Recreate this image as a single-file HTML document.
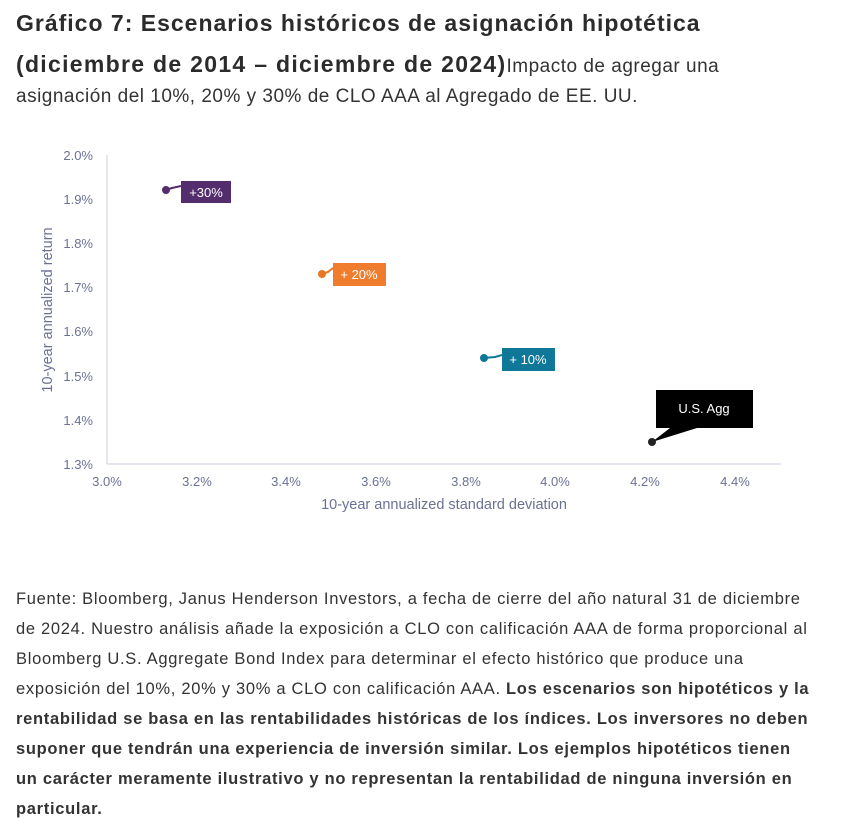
<!DOCTYPE html>
<html><head><meta charset="utf-8"><style>
body{margin:0;width:842px;height:831px;background:#fff;font-family:"Liberation Sans",sans-serif;color:#333;overflow:hidden}
.t{position:absolute;left:16px;top:4px;width:830px;font-size:19px;line-height:38px;color:#333;white-space:nowrap;letter-spacing:0.5px}
.t b{font-size:23px;color:#2b2b2b;letter-spacing:1.0px}
.s{position:absolute;left:16px;top:83px;font-size:19px;line-height:28px;color:#333;white-space:nowrap;letter-spacing:0.5px}
.f{position:absolute;left:16px;top:584px;width:830px;font-size:16.5px;line-height:30px;color:#333;white-space:nowrap;letter-spacing:0.7px}
</style></head><body>
<div class="t"><b>Gráfico 7: Escenarios históricos de asignación hipotética</b><br><b style="letter-spacing:1.3px">(diciembre de 2014 – diciembre de 2024)</b>Impacto de agregar una</div>
<div class="s">asignación del 10%, 20% y 30% de CLO AAA al Agregado de EE. UU.</div>
<svg width="842" height="831" style="position:absolute;left:0;top:0" font-family="Liberation Sans, sans-serif">
<g fill="#6b7194" font-size="13">
<line x1="107" y1="155" x2="107" y2="464" stroke="#c9cfe0"/>
<line x1="107" y1="464" x2="781" y2="464" stroke="#c9cfe0"/>
<g text-anchor="end">
<text x="93" y="160">2.0%</text><text x="93" y="204">1.9%</text><text x="93" y="248">1.8%</text><text x="93" y="292">1.7%</text><text x="93" y="336">1.6%</text><text x="93" y="381">1.5%</text><text x="93" y="425">1.4%</text><text x="93" y="469">1.3%</text></g>
<g text-anchor="middle">
<text x="107" y="486">3.0%</text><text x="197" y="486">3.2%</text><text x="286" y="486">3.4%</text><text x="376" y="486">3.6%</text><text x="466" y="486">3.8%</text><text x="555" y="486">4.0%</text><text x="645" y="486">4.2%</text><text x="735" y="486">4.4%</text></g>
<text x="444" y="509" text-anchor="middle" font-size="14.5">10-year annualized standard deviation</text>
<text transform="translate(52,310) rotate(-90)" text-anchor="middle" font-size="14.5">10-year annualized return</text>
</g>
<g font-size="13" fill="#fff">
<path d="M166 190 L172 188 L181 186" stroke="#532d6d" stroke-width="2" fill="none"/>
<circle cx="166" cy="190" r="4" fill="#532d6d"/>
<rect x="181" y="181" width="50" height="22" fill="#532d6d"/><text x="206" y="197" text-anchor="middle">+30%</text>
<path d="M322 274 L328 272 L333 268" stroke="#e87722" stroke-width="2" fill="none"/>
<circle cx="322" cy="274" r="4" fill="#e87722"/>
<rect x="333" y="263" width="53" height="23" fill="#ef7d2d"/><text x="359" y="279" text-anchor="middle">+ 20%</text>
<path d="M484 358 L495 357 L502 355" stroke="#0f7899" stroke-width="2" fill="none"/>
<circle cx="484" cy="358" r="4" fill="#0f7899"/>
<rect x="502" y="348" width="53" height="23" fill="#0f7899"/><text x="528" y="364" text-anchor="middle">+ 10%</text>
<polygon points="652,442 670,428 697,428" fill="#000"/>
<circle cx="652" cy="442" r="4" fill="#222"/>
<rect x="656" y="390" width="97" height="38" fill="#000"/><text x="704" y="413" text-anchor="middle">U.S. Agg</text>
</g>
</svg>
<div class="f">Fuente: Bloomberg, Janus Henderson Investors, a fecha de cierre del año natural 31 de diciembre<br>de 2024. Nuestro análisis añade la exposición a CLO con calificación AAA de forma proporcional al<br>Bloomberg U.S. Aggregate Bond Index para determinar el efecto histórico que produce una<br>exposición del 10%, 20% y 30% a CLO con calificación AAA. <b>Los escenarios son hipotéticos y la</b><br><b>rentabilidad se basa en las rentabilidades históricas de los índices. Los inversores no deben</b><br><b>suponer que tendrán una experiencia de inversión similar. Los ejemplos hipotéticos tienen</b><br><b>un carácter meramente ilustrativo y no representan la rentabilidad de ninguna inversión en</b><br><b>particular.</b></div>
</body></html>
